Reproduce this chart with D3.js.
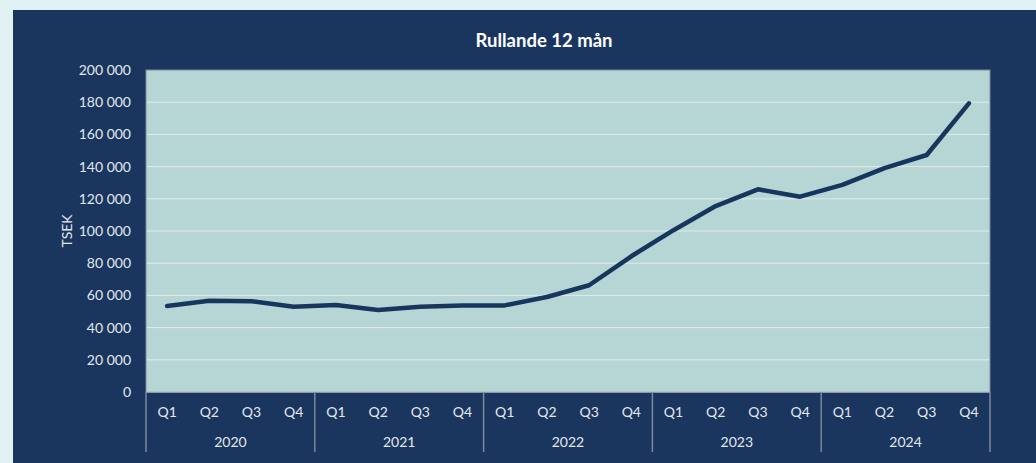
<!DOCTYPE html>
<html>
<head>
<meta charset="utf-8">
<script src="https://cdn.jsdelivr.net/npm/d3@7"></script>
<style>
  body { margin: 0; background: #e0f2f3; }
  svg { display: block; }
  text { font-family: Lato, "Open Sans", sans-serif; fill: #e3e8ef; }
</style>
</head>
<body>
<script>
// data
let years = ['2020', '2021', '2022', '2023', '2024'];
let quarters = ['Q1', 'Q2', 'Q3', 'Q4'];
let values = [53400, 56700, 56400, 53000,
              54000, 51000, 53000, 53700,
              53800, 59000, 66300, 84300,
              100500, 115500, 125900, 121300,
              128600, 139000, 147200, 179300];
let yTicks = [0, 20000, 40000, 60000, 80000, 100000, 120000, 140000, 160000, 180000, 200000];

let svgWidth = 1036, svgHeight = 463;
let margin = { top: 70, right: 46, bottom: 71, left: 146 };
let width = svgWidth - margin.left - margin.right;
let height = svgHeight - margin.top - margin.bottom;

let svg = d3.select('body').append('svg')
  .attr('width', svgWidth)
  .attr('height', svgHeight);

// dark panel
svg.append('rect')
  .attr('x', 13).attr('y', 10)
  .attr('width', svgWidth - 13).attr('height', svgHeight - 10)
  .attr('fill', '#1a365f');

svg.append('text')
  .attr('x', 544).attr('y', 47)
  .attr('text-anchor', 'middle')
  .style('font-size', '18.5px')
  .style('font-weight', 'bold')
  .style('fill', '#ffffff')
  .text('Rullande 12 mån');

let g = svg.append('g')
  .attr('transform', 'translate(' + margin.left + ',' + margin.top + ')');

// categories = every quarter of every year
let cats = [];
years.forEach(y => quarters.forEach(q => cats.push(y + ' ' + q)));

let x = d3.scaleBand().domain(cats).range([0, width]);
let xYear = d3.scaleBand().domain(years).range([0, width]);
let y = d3.scaleLinear().domain([0, 200000]).range([height, 0]);

g.append('rect')
  .attr('width', width).attr('height', height)
  .attr('fill', '#b6d5d5');

// gridlines
g.selectAll('.grid')
  .data(yTicks.slice(1, -1))
  .enter().append('line')
    .attr('x1', 0).attr('x2', width)
    .attr('y1', d => y(d)).attr('y2', d => y(d))
    .attr('stroke', '#dfeceb')
    .attr('stroke-width', 1);

// plot border
g.append('rect')
  .attr('width', width).attr('height', height)
  .attr('fill', 'none')
  .attr('stroke', '#7d8896')
  .attr('stroke-width', 1);
g.append('line')
  .attr('x1', 0).attr('x2', width)
  .attr('y1', height).attr('y2', height)
  .attr('stroke', '#c9d6dd');

// y axis labels
let fmt = d => d3.format(',')(d).replace(/,/g, ' ');
g.selectAll('.ylab')
  .data(yTicks)
  .enter().append('text')
    .attr('x', -15)
    .attr('y', d => y(d))
    .attr('dy', '0.35em')
    .attr('text-anchor', 'end')
    .style('font-size', '14px')
    .text(fmt);

svg.append('text')
  .attr('transform', 'translate(72,231) rotate(-90)')
  .attr('text-anchor', 'middle')
  .style('font-size', '14px')
  .text('TSEK');

// x axis: quarter labels, year labels and separators
g.selectAll('.qlab')
  .data(cats)
  .enter().append('text')
    .attr('x', d => x(d) + x.bandwidth() / 2)
    .attr('y', height + 25)
    .attr('text-anchor', 'middle')
    .style('font-size', '14px')
    .text(d => d.split(' ')[1]);

g.selectAll('.ylabx')
  .data(years)
  .enter().append('text')
    .attr('x', d => xYear(d) + xYear.bandwidth() / 2)
    .attr('y', height + 55)
    .attr('text-anchor', 'middle')
    .style('font-size', '14px')
    .text(d => d);

let seps = years.map(d => xYear(d)).concat([width]);
g.selectAll('.sep')
  .data(seps)
  .enter().append('line')
    .attr('x1', d => d).attr('x2', d => d)
    .attr('y1', height).attr('y2', height + 60)
    .attr('stroke', '#7d8896')
    .attr('stroke-width', 1.5);

// the line
let line = d3.line()
  .x((d, i) => x(cats[i]) + x.bandwidth() / 2)
  .y(d => y(d));

g.append('path')
  .datum(values)
  .attr('d', line)
  .attr('fill', 'none')
  .attr('stroke', '#17365e')
  .attr('stroke-width', 4.5)
  .attr('stroke-linejoin', 'round')
  .attr('stroke-linecap', 'round');
</script>
</body>
</html>
